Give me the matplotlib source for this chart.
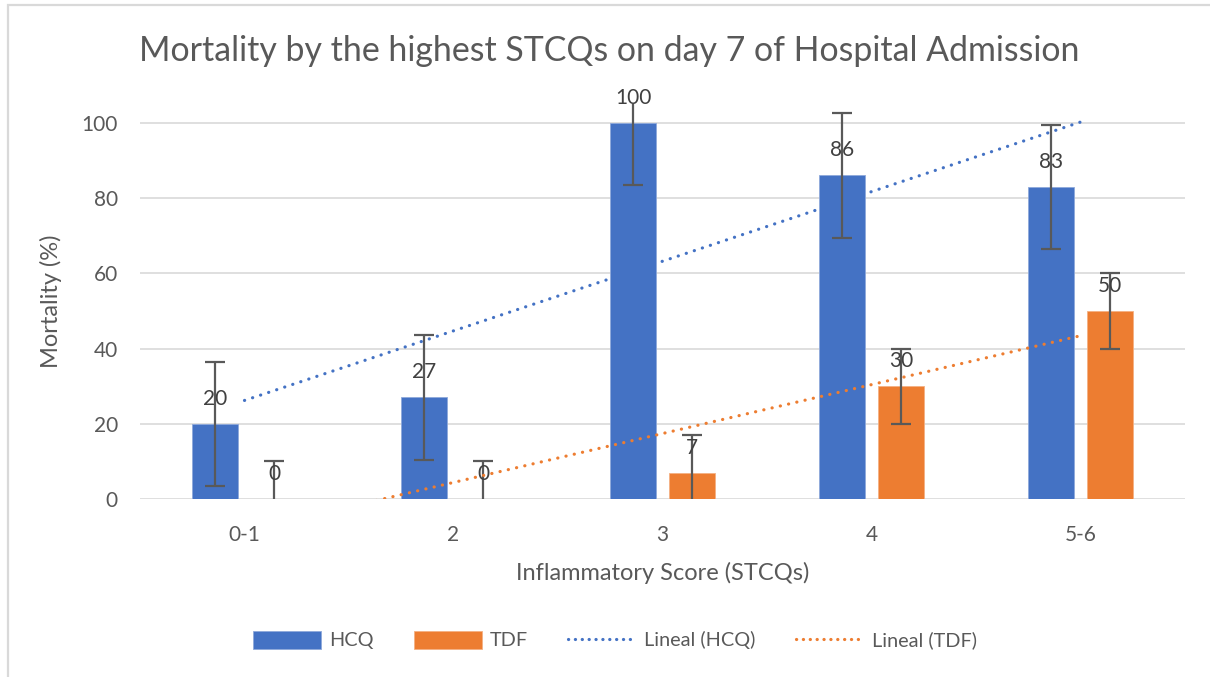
import numpy as np
import matplotlib
matplotlib.use("Agg")
import matplotlib.pyplot as plt
from matplotlib.patches import Rectangle

categories = ["0-1", "2", "3", "4", "5-6"]
hcq = [20, 27, 100, 86, 83]
tdf = [0, 0, 7, 30, 50]
hcq_err = [16.5, 16.5, 16.5, 16.5, 16.5]
tdf_err = [10, 10, 10, 10, 10]
yticks = [0, 20, 40, 60, 80, 100]

BLUE = "#4472C4"
ORANGE = "#ED7D31"
GRAY = "#595959"
GRID = "#D9D9D9"
FONT = "Lato"

plt.rcParams["font.family"] = [FONT, "DejaVu Sans"]

fig = plt.figure(figsize=(12.10, 6.77), dpi=100)
ax = fig.add_axes([140 / 1210, 1 - 499 / 677, (1185 - 140) / 1210, (499 - 104) / 677])

x = np.arange(len(categories))
w = 0.22
off = 0.141

ax.bar(x - off, hcq, width=w, color=BLUE, edgecolor="#8EA9DB", linewidth=0.6, zorder=2, label="HCQ")
ax.bar(x + off, tdf, width=w, color=ORANGE, edgecolor="#F4B183", linewidth=0.6, zorder=2, label="TDF")

ax.errorbar(x - off, hcq, yerr=hcq_err, fmt="none", ecolor=GRAY, elinewidth=1.6, capsize=7, capthick=1.6, zorder=4)
ax.errorbar(x + off, tdf, yerr=tdf_err, fmt="none", ecolor=GRAY, elinewidth=1.6, capsize=7, capthick=1.6, zorder=4)

# linear trendlines
for vals, col, lab in [(hcq, BLUE, "Lineal (HCQ)"), (tdf, ORANGE, "Lineal (TDF)")]:
    p = np.polyfit(x, vals, 1)
    xs = np.array([x[0], x[-1]])
    ax.plot(xs, np.polyval(p, xs), color=col, linewidth=2.3, linestyle=(0, (0.05, 2.6)),
            dash_capstyle="round", zorder=5, label=lab)

# data labels
for xi, v in zip(x - off, hcq):
    ax.annotate(str(v), (xi, v), xytext=(0, 25), textcoords="offset pixels", ha="center", va="center",
                fontsize=15, color="#404040", zorder=6)
for xi, v in zip(x + off, tdf):
    ax.annotate(str(v), (xi, v), xytext=(0, 25), textcoords="offset pixels", ha="center", va="center",
                fontsize=15, color="#404040", zorder=6)

ax.set_xlim(-0.5, len(categories) - 0.5)
ax.set_ylim(0, 105)
ax.set_yticks(yticks)
ax.set_xticks(x)
ax.set_xticklabels(categories)
ax.yaxis.grid(True, color=GRID, linewidth=1.2, zorder=0)
ax.set_axisbelow(True)
for s in ax.spines.values():
    s.set_visible(False)
ax.tick_params(axis="both", length=0, labelsize=15, labelcolor=GRAY)
ax.tick_params(axis="y", pad=16)
ax.tick_params(axis="x", pad=19)

ax.set_xlabel("Inflammatory Score (STCQs)", fontsize=17, color=GRAY, labelpad=12)
ax.set_ylabel("Mortality (%)", fontsize=17, color=GRAY, labelpad=14)

fig.text(609 / 1210, 1 - 51 / 677, "Mortality by the highest STCQs on day 7 of Hospital Admission",
         ha="center", va="center", fontsize=24.4, color=GRAY)

handles, labels = ax.get_legend_handles_labels()
order = [2, 3, 0, 1]
handles = [handles[i] for i in order]
labels = [labels[i] for i in order]
leg = fig.legend(handles, labels, loc="center", bbox_to_anchor=(615 / 1210, 1 - 640 / 677), ncol=4,
                 frameon=False, fontsize=14.3, handlelength=3.4, handleheight=1.05,
                 handletextpad=0.4, columnspacing=2.05, labelcolor=GRAY)
for ln in leg.get_lines():
    ln.set_linestyle((0, (0.05, 2.1)))

fig.add_artist(Rectangle((8 / 1210, -0.1), 1.2, 1 - 5 / 677 + 0.1, transform=fig.transFigure,
                         fill=False, edgecolor=GRID, linewidth=1.6))

fig.savefig("out.png", dpi=100, facecolor="white")
